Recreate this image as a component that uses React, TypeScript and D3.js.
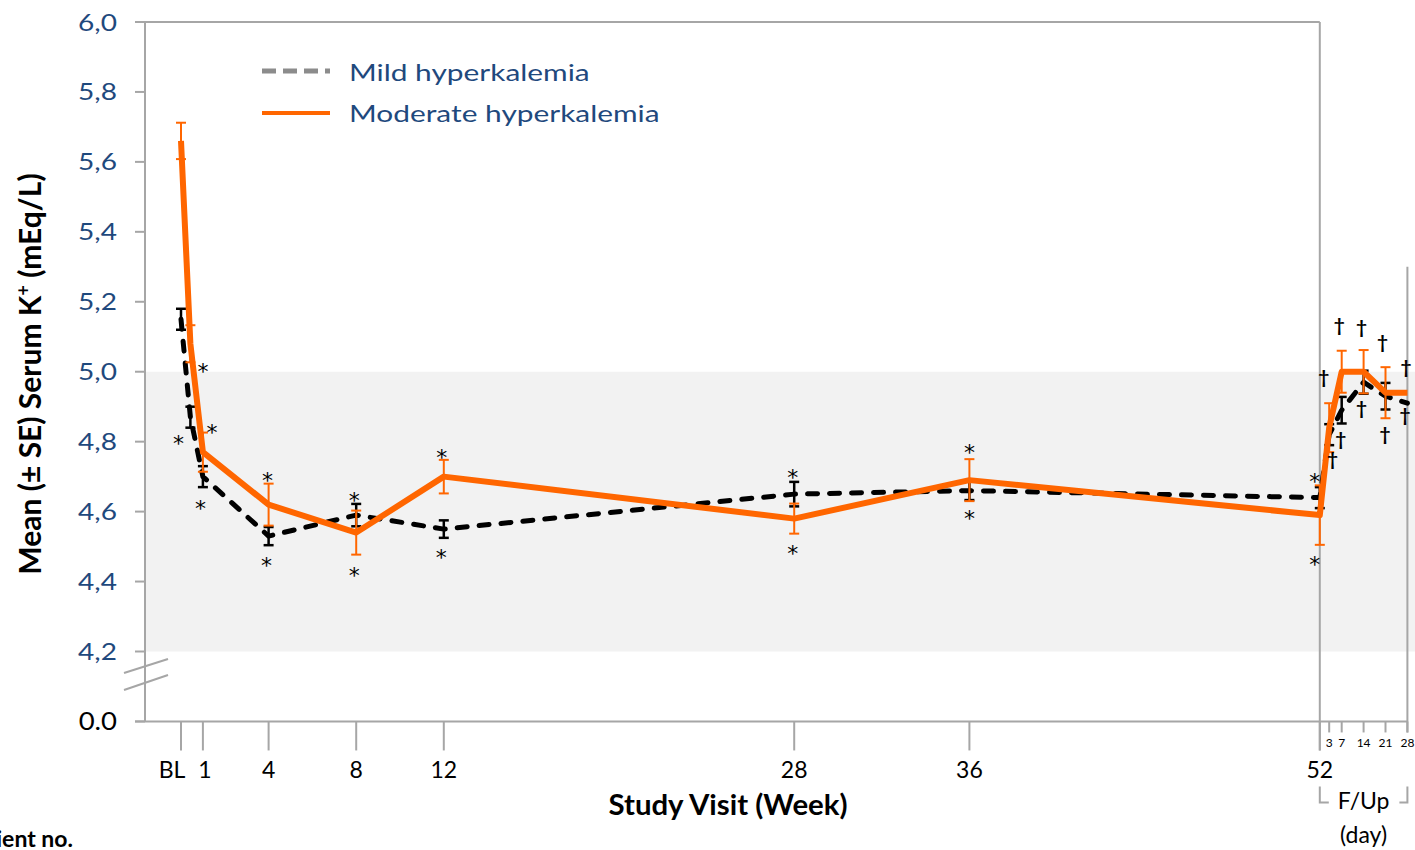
import React from 'react';
import * as d3 from 'd3';

const WIDTH = 1415;
const HEIGHT = 850;
const FONT = "Lato, 'Open Sans', sans-serif";
const MARK_FONT = "'DejaVu Sans', sans-serif";

// Visit timing in weeks; follow-up days are counted on from week 52
const visitNames = ['BL', 'Day 3', 'Week 1', 'Week 4', 'Week 8', 'Week 12', 'Week 28', 'Week 36', 'Week 52', 'F/Up day 3', 'F/Up day 7', 'F/Up day 14', 'F/Up day 21', 'F/Up day 28'];
const visitWeeks = [0, 3 / 7, 1, 4, 8, 12, 28, 36, 52, 52 + 3 / 7, 53, 54, 55, 56];

// Mean serum K+ (mEq/L) and standard error per visit
const mildMean = [5.15, 4.87, 4.70, 4.53, 4.59, 4.55, 4.65, 4.66, 4.64, 4.82, 4.89, 4.97, 4.93, 4.91];
const mildSE = [0.03, 0.03, 0.03, 0.026, 0.032, 0.025, 0.035, 0.027, 0.03, 0.03, 0.038, 0.033, 0.038, null];
const moderateMean = [5.66, 5.08, 4.77, 4.62, 4.54, 4.70, 4.58, 4.69, 4.59, 4.84, 5.00, 5.00, 4.94, 4.94];
const moderateSE = [0.052, 0.053, 0.056, 0.06, 0.063, 0.048, 0.043, 0.06, 0.085, 0.07, 0.06, 0.062, 0.073, null];

// Axis ticks
const weekTicks = [0, 1, 4, 8, 12, 28, 36, 52];
const weekTickLabels = ['BL', '1', '4', '8', '12', '28', '36', '52'];
const followUpDays = [3, 7, 14, 21, 28];
const yTickValues = [4.0, 4.2, 4.4, 4.6, 4.8, 5.0, 5.2, 5.4, 5.6, 5.8, 6.0];
const yTickLabels = ['0.0', '4,2', '4,4', '4,6', '4,8', '5,0', '5,2', '5,4', '5,6', '5,8', '6,0'];

// Normal range band shown on the plot
const bandLow = 4.2;
const bandHigh = 5.0;

// Significance markers (* vs baseline, † vs week 52), tied to one end of a series' error bar
const sigVisit = [1, 1, 2, 2, 3, 3, 4, 4, 5, 5, 6, 6, 7, 7, 8, 8, 9, 9, 10, 10, 11, 11, 12, 12, 13, 13];
const sigSeries = ['mod', 'mild', 'mod', 'mild', 'mod', 'mild', 'mild', 'mod', 'mod', 'mild', 'mild', 'mod', 'mod', 'mild', 'mod', 'mod', 'mod', 'mild', 'mod', 'mild', 'mod', 'mild', 'mod', 'mod', 'mod', 'mild'];
const sigEnd = ['low', 'low', 'high', 'low', 'high', 'low', 'high', 'low', 'high', 'low', 'high', 'low', 'high', 'low', 'high', 'low', 'high', 'low', 'high', 'low', 'high', 'low', 'high', 'low', 'high', 'low'];
const sigSymbol = ['*', '*', '*', '*', '*', '*', '*', '*', '*', '*', '*', '*', '*', '*', '*', '*', '†', '†', '†', '†', '†', '†', '†', '†', '†', '†'];

// Placement nudges for the markers (pixels from the error-bar end)
const sigOffsets: [number, number][] = [
  [12.5, 4], [-12, 10.5], [9, -6], [-2.5, 16], [-1, -8.5], [-2, 14.5], [-2, -9], [-2, 15],
  [-2, -8], [-2.5, 14], [-1.5, -10], [-1.5, 14], [0, -12], [0, 13], [-5, -9], [-5, 14],
  [-5.5, -25], [3.3, 15], [-2.5, -24], [-1, 16.5], [-2, -22], [-2, 16], [-3, -24], [-0.6, 17],
  [-1.4, -24.5], [-2.4, 13.5],
];

// Horizontal nudges for the crowded first two week labels
const weekLabelNudge = [-9, 2, 0, 0, 0, 0, 0, 0];

const ORANGE = '#FF6600';
const BLUE = '#1F497D';
const GRID = '#A6A6A6';

type SProps = {
  x: number;
  y: number;
  sx?: number;
  anchor?: 'start' | 'middle' | 'end';
  size: number;
  fill?: string;
  weight?: string | number;
  children: React.ReactNode;
};

// Text with an optional horizontal stretch around its anchor point
function SText({ x, y, sx = 1, anchor = 'start', size, fill = '#000', weight = 'normal', children }: SProps) {
  return (
    <text
      transform={`translate(${x},${y}) scale(${sx},1)`}
      textAnchor={anchor}
      fontFamily={FONT}
      fontSize={size}
      fontWeight={weight}
      fill={fill}
    >
      {children}
    </text>
  );
}

export default function App() {
  const x = d3.scaleLinear().domain([0, 56]).range([181, 1407.4]);
  const y = d3.scaleLinear().domain([4.2, 6.0]).range([651.5, 22]);

  const axisX = 145;
  const axisY = y(4.0);
  const top = y(6.0);
  const divider = x(52);
  const rightEdge = x(56);

  const line = d3
    .line<number>()
    .x((_, i) => x(visitWeeks[i]))
    .y((d) => y(d));

  const series = {
    mild: { mean: mildMean, se: mildSE },
    mod: { mean: moderateMean, se: moderateSE },
  };

  const errorBars = (mean: number[], se: (number | null)[], color: string, width: number) =>
    mean.map((m, i) => {
      const s = se[i];
      if (s == null) return null;
      const cx = x(visitWeeks[i]);
      const y1 = y(m + s);
      const y2 = y(m - s);
      return (
        <g key={`${color}-${visitNames[i]}`} stroke={color} strokeWidth={width}>
          <line x1={cx} x2={cx} y1={y1} y2={y2} />
          <line x1={cx - 5} x2={cx + 5} y1={y1} y2={y1} />
          <line x1={cx - 5} x2={cx + 5} y1={y2} y2={y2} />
        </g>
      );
    });

  const sigMarks = sigVisit.map((vi, k) => {
    const s = series[sigSeries[k] as 'mild' | 'mod'];
    const m = s.mean[vi];
    const e = s.se[vi] ?? 0;
    const v = sigEnd[k] === 'high' ? m + e : m - e;
    const [dx, dy] = sigOffsets[k];
    const cx = x(visitWeeks[vi]) + dx;
    const cy = y(v) + dy;
    const isStar = sigSymbol[k] === '*';
    const size = isStar ? 22 : 19;
    const base = isStar ? cy + 0.59 * size : cy + 0.3 * size;
    return (
      <text
        key={`sig-${k}`}
        x={cx}
        y={base}
        textAnchor="middle"
        fontFamily={isStar ? MARK_FONT : FONT}
        fontSize={size}
        fontWeight={isStar ? 'normal' : 'bold'}
        fill="#000"
      >
        {sigSymbol[k]}
      </text>
    );
  });

  return (
    <svg
      width={WIDTH}
      height={HEIGHT}
      style={{ position: 'absolute', left: 0, top: 0, background: '#fff' }}
    >
      {/* normal-range band */}
      <rect x={axisX} y={y(bandHigh)} width={WIDTH - axisX} height={y(bandLow) - y(bandHigh)} fill="#F2F2F2" />

      {/* frame lines */}
      <g stroke={GRID} strokeWidth={2} fill="none">
        <line x1={135} x2={divider} y1={top} y2={top} />
        <line x1={axisX} x2={axisX} y1={top} y2={axisY} />
        <line x1={135} x2={rightEdge} y1={axisY} y2={axisY} />
        <line x1={divider} x2={divider} y1={top} y2={axisY + 29} />
        <line x1={rightEdge} x2={rightEdge} y1={y(5.3)} y2={axisY + 11} />
        {yTickValues.map((v) => (
          <line key={`yt-${v}`} x1={135} x2={axisX} y1={y(v)} y2={y(v)} />
        ))}
        {weekTicks.map((w) => (
          <line key={`xt-${w}`} x1={x(w)} x2={x(w)} y1={axisY} y2={axisY + 29} />
        ))}
        {followUpDays.map((d) => (
          <line key={`ft-${d}`} x1={x(52 + d / 7)} x2={x(52 + d / 7)} y1={axisY} y2={axisY + 11} />
        ))}
        {/* axis break */}
        <line x1={124} x2={168} y1={y(4.2) + 21.5} y2={y(4.2) + 7.5} />
        <line x1={124} x2={168} y1={y(4.2) + 38.5} y2={y(4.2) + 23.5} />
      </g>

      {/* y tick labels */}
      {yTickValues.map((v, i) =>
        v === 4.0 ? (
          <SText key={`yl-${v}`} x={117} y={y(v) + 9} sx={1.1} anchor="end" size={25}>
            {yTickLabels[i]}
          </SText>
        ) : (
          <SText key={`yl-${v}`} x={117} y={y(v) + 8.5} sx={1.22} anchor="end" size={23} fill={BLUE}>
            {yTickLabels[i]}
          </SText>
        )
      )}

      {/* week tick labels */}
      {weekTicks.map((w, i) => (
        <SText key={`xl-${w}`} x={x(w) + weekLabelNudge[i]} y={axisY + 57} anchor="middle" size={23}>
          {weekTickLabels[i]}
        </SText>
      ))}
      {followUpDays.map((d) => (
        <SText key={`fl-${d}`} x={x(52 + d / 7)} y={axisY + 26} anchor="middle" size={12}>
          {String(d)}
        </SText>
      ))}

      {/* follow-up bracket */}
      <g stroke={GRID} strokeWidth={2} fill="none">
        <polyline points={`${divider},${axisY + 65} ${divider},${axisY + 81} ${divider + 9},${axisY + 81}`} />
        <polyline points={`${rightEdge - 8},${axisY + 81} ${rightEdge},${axisY + 81} ${rightEdge},${axisY + 65}`} />
      </g>
      <SText x={(divider + rightEdge) / 2} y={axisY + 88} anchor="middle" size={23}>
        F/Up
      </SText>
      <SText x={(divider + rightEdge) / 2} y={axisY + 122} anchor="middle" size={23}>
        (day)
      </SText>

      {/* axis titles */}
      <SText x={728} y={815} anchor="middle" size={28} sx={1.05} weight="bold">
        Study Visit (Week)
      </SText>
      <text
        transform="translate(41,374) rotate(-90)"
        textAnchor="middle"
        fontFamily={FONT}
        fontSize={30}
        fontWeight="bold"
        fill="#000"
      >
        Mean (± SE) Serum K
        <tspan baselineShift="super" fontSize={18}>+</tspan>
        <tspan> (mEq/L)</tspan>
      </text>
      <SText x={73} y={847} anchor="end" size={23} weight="bold">
        Patient no.
      </SText>

      {/* mild hyperkalemia */}
      <path
        d={line(mildMean) ?? ''}
        fill="none"
        stroke="#000"
        strokeWidth={5}
        strokeDasharray="10 12"
        strokeLinecap="round"
        strokeLinejoin="round"
      />
      {errorBars(mildMean, mildSE, '#000', 2.5)}

      {/* moderate hyperkalemia */}
      <path
        d={line(moderateMean) ?? ''}
        fill="none"
        stroke={ORANGE}
        strokeWidth={6}
        strokeLinejoin="round"
      />
      {errorBars(moderateMean, moderateSE, ORANGE, 2)}

      {sigMarks}

      {/* legend */}
      <line x1={262} x2={330} y1={71} y2={71} stroke="#8C8C8C" strokeWidth={5} strokeDasharray="14 7" />
      <SText x={349} y={81} sx={1.3} size={23} fill={BLUE}>
        Mild hyperkalemia
      </SText>
      <line x1={262} x2={330} y1={113} y2={113} stroke={ORANGE} strokeWidth={4} />
      <SText x={349} y={122} sx={1.3} size={23} fill={BLUE}>
        Moderate hyperkalemia
      </SText>
    </svg>
  );
}
